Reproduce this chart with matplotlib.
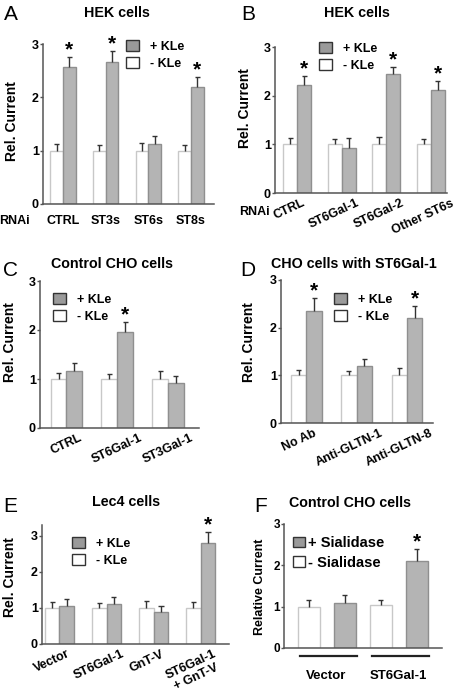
import numpy as np
import matplotlib
matplotlib.use('Agg')
import matplotlib.pyplot as plt
from matplotlib.patches import Patch

plt.rcParams['font.family'] = ['Liberation Sans', 'DejaVu Sans']
plt.rcParams['font.weight'] = 'bold'

# ---- data ----
a_groups = ['CTRL', 'ST3s', 'ST6s', 'ST8s']
a_minus = [1.0, 1.0, 1.0, 1.0]
a_minus_err = [0.12, 0.10, 0.15, 0.10]
a_plus = [2.56, 2.66, 1.12, 2.19]
a_plus_err = [0.20, 0.21, 0.16, 0.20]
a_star = [True, True, False, True]

b_groups = ['CTRL', 'ST6Gal-1', 'ST6Gal-2', 'Other ST6s']
b_minus = [1.0, 1.0, 1.0, 1.0]
b_minus_err = [0.12, 0.10, 0.15, 0.10]
b_plus = [2.21, 0.92, 2.45, 2.12]
b_plus_err = [0.20, 0.21, 0.14, 0.19]
b_star = [True, False, True, True]

c_groups = ['CTRL', 'ST6Gal-1', 'ST3Gal-1']
c_minus = [1.0, 1.0, 1.0]
c_minus_err = [0.13, 0.11, 0.16]
c_plus = [1.17, 1.95, 0.92]
c_plus_err = [0.15, 0.22, 0.14]
c_star = [False, True, False]

d_groups = ['No Ab', 'Anti-GLTN-1', 'Anti-GLTN-8']
d_minus = [1.0, 1.0, 1.0]
d_minus_err = [0.11, 0.10, 0.15]
d_plus = [2.34, 1.20, 2.20]
d_plus_err = [0.29, 0.15, 0.25]
d_star = [True, False, True]

e_groups = ['Vector', 'ST6Gal-1', 'GnT-V', 'ST6Gal-1\n+ GnT-V']
e_minus = [1.0, 1.0, 1.0, 1.0]
e_minus_err = [0.16, 0.15, 0.20, 0.16]
e_plus = [1.06, 1.11, 0.90, 2.80]
e_plus_err = [0.19, 0.20, 0.16, 0.30]
e_star = [False, False, False, True]

f_groups = ['Vector', 'ST6Gal-1']
f_minus = [1.0, 1.04]
f_minus_err = [0.15, 0.11]
f_plus = [1.09, 2.10]
f_plus_err = [0.20, 0.29]
f_star = [False, True]

W, H = 458, 696
fig = plt.figure(figsize=(W / 100, H / 100), dpi=100)

GRAY = '#b4b4b4'
GRAY_EDGE = '#8f8f8f'
WHITE_EDGE = '#c8c8c8'
SPINE = '#555555'


def px(x, y):
    return x / W, 1 - y / H


def panel(l, r, t, b):
    ax = fig.add_axes([l / W, 1 - b / H, (r - l) / W, (b - t) / H])
    ax.patch.set_visible(False)
    return ax


def style(ax, xlim, ylim, tsize=9):
    for s in ['top', 'right']:
        ax.spines[s].set_visible(False)
    for s in ['left', 'bottom']:
        ax.spines[s].set_color(SPINE)
        ax.spines[s].set_linewidth(1.1)
    ax.set_xlim(*xlim)
    ax.set_ylim(*ylim)
    ax.set_yticks([0, 1, 2, 3])
    ax.set_yticklabels(['0', '1', '2', '3'], fontsize=tsize, fontweight='bold')
    ax.tick_params(axis='y', length=2, width=1, color=SPINE, pad=1)
    ax.tick_params(axis='x', length=0)


def draw_bars(ax, xm, xp, minus, minus_err, plus, plus_err, stars, width, cap):
    ax.bar(xm, minus, width, color='white', edgecolor=WHITE_EDGE, linewidth=1, zorder=2)
    ax.bar(xp, plus, width, color=GRAY, edgecolor=GRAY_EDGE, linewidth=1, zorder=2)
    for xs, ys, es in [(xm, minus, minus_err), (xp, plus, plus_err)]:
        xs = np.asarray(xs, dtype=float)
        ys = np.asarray(ys)
        tops = ys + np.asarray(es)
        ax.vlines(xs, ys, tops, color='#333333', linewidth=1, zorder=3)
        ax.hlines(tops, xs - cap, xs + cap, color='#333333', linewidth=1, zorder=3)
    for x, y, e, s in zip(xp, plus, plus_err, stars):
        if s:
            ax.annotate('*', (x, y + e), xytext=(0, 1), textcoords='offset points',
                        ha='center', va='baseline', fontsize=15, fontweight='bold',
                        annotation_clip=False)


def legend(ax, x, y, labels, size=9, hl=1.0, hh=1.0, sp=0.35, tp=0.9):
    handles = [Patch(facecolor='#9a9a9a', edgecolor='#333333', linewidth=1),
               Patch(facecolor='white', edgecolor='#333333', linewidth=1)]
    ax.legend(handles, labels, loc='upper left', bbox_to_anchor=px(x, y),
              bbox_transform=fig.transFigure, frameon=False, borderpad=0,
              borderaxespad=0, handlelength=hl, handleheight=hh,
              labelspacing=sp, handletextpad=tp,
              prop={'size': size, 'weight': 'bold'})


def ylabel(ax, text, x, y, size=10):
    ax.set_ylabel(text, fontsize=size, fontweight='bold', va='center')
    ax.yaxis.set_label_coords(*px(x, y), transform=fig.transFigure)


def letter(x, y, s):
    fig.text(*px(x, y), s, fontsize=15, fontweight='normal', ha='center', va='center')


def title(x, y, s, size=10.3):
    fig.text(*px(x, y), s, fontsize=size, fontweight='bold', ha='center', va='center')


# ---- A ----
ax = panel(43, 214, 44, 204)
w = 0.30
x = np.arange(len(a_groups))
draw_bars(ax, x - w / 2, x + w / 2, a_minus, a_minus_err, a_plus, a_plus_err, a_star, w, 0.06)
style(ax, (-0.47, 3.54), (0, 3))
ax.set_xticks(x)
ax.set_xticklabels(a_groups, fontsize=9, fontweight='bold')
ax.tick_params(axis='x', pad=8)
legend(ax, 126, 40, ['+ KLe', '- KLe'])
ylabel(ax, 'Rel. Current', 12, 121)
fig.text(*px(14, 221), 'RNAi', fontsize=9, fontweight='bold', ha='center', va='center')
letter(11, 15, 'A')
title(117, 13, 'HEK cells')

# ---- B ----
ax = panel(275, 447, 47, 193)
w = 0.315
x = np.arange(len(b_groups))
draw_bars(ax, x - w / 2, x + w / 2, b_minus, b_minus_err, b_plus, b_plus_err, b_star, w, 0.06)
style(ax, (-0.50, 3.37), (0, 3))
ax.set_xticks(x - 0.17)
ax.set_xticklabels(b_groups, fontsize=9, fontweight='bold', rotation=25, ha='center')
ax.tick_params(axis='x', pad=3)
legend(ax, 319, 42, ['+ KLe', '- KLe'])
ylabel(ax, 'Rel. Current', 245, 108)
fig.text(*px(254, 212), 'RNAi', fontsize=9, fontweight='bold', ha='center', va='center')
letter(248, 15, 'B')
title(357, 13, 'HEK cells')

# ---- C ----
ax = panel(40, 199, 281, 428)
w = 0.31
x = np.arange(len(c_groups))
draw_bars(ax, x - w / 2, x + w / 2, c_minus, c_minus_err, c_plus, c_plus_err, c_star, w, 0.05)
style(ax, (-0.52, 2.61), (0, 3))
ax.set_xticks(x)
ax.set_xticklabels(c_groups, fontsize=9, fontweight='bold', rotation=25, ha='center')
ax.tick_params(axis='x', pad=3)
legend(ax, 53, 293, ['+ KLe', '- KLe'])
ylabel(ax, 'Rel. Current', 10, 342)
letter(10, 271, 'C')
title(112, 264, 'Control CHO cells')

# ---- D ----
ax = panel(281, 433, 280, 423)
w = 0.305
x = np.arange(len(d_groups))
draw_bars(ax, x - w / 2, x + w / 2, d_minus, d_minus_err, d_plus, d_plus_err, d_star, w, 0.05)
style(ax, (-0.505, 2.52), (0, 3))
ax.set_xticks(x - 0.15)
ax.set_xticklabels(d_groups, fontsize=9, fontweight='bold', rotation=25, ha='center')
ax.tick_params(axis='x', pad=3)
legend(ax, 334, 293, ['+ KLe', '- KLe'])
ylabel(ax, 'Rel. Current', 249, 342)
letter(248, 271, 'D')
title(354, 264, 'CHO cells with ST6Gal-1')

# ---- E ----
ax = panel(42, 229, 525, 644)
w = 0.31
x = np.arange(len(e_groups))
draw_bars(ax, x - w / 2, x + w / 2, e_minus, e_minus_err, e_plus, e_plus_err, e_star, w, 0.055)
style(ax, (-0.37, 3.6), (0, 3.3))
ax.set_xticks(x - 0.15)
ax.set_xticklabels(e_groups, fontsize=9, fontweight='bold', rotation=25, ha='center',
                   multialignment='center')
ax.tick_params(axis='x', pad=3)
legend(ax, 72, 537, ['+ KLe', '- KLe'])
ylabel(ax, 'Rel. Current', 10, 577)
letter(10, 507, 'E')
title(126, 502, 'Lec4 cells')

# ---- F ----
ax = panel(284, 442, 524, 648)
w = 0.61
xg = np.arange(len(f_groups)) * 2
draw_bars(ax, xg, xg + 1, f_minus, f_minus_err, f_plus, f_plus_err, f_star, w, 0.07)
style(ax, (-0.68, 3.7), (0, 3), tsize=8.5)
ax.set_xticks(xg + 0.5)
ax.set_xticklabels(f_groups, fontsize=9.5, fontweight='bold')
ax.tick_params(axis='x', pad=16)
for g in xg:
    ax.plot([g - 0.25, g + 1.35], [-0.065, -0.065], transform=ax.get_xaxis_transform(),
            clip_on=False, color='#222222', linewidth=1.6)
legend(ax, 293, 536, ['+ Sialidase', '- Sialidase'], size=10.5, hl=0.85, hh=0.75,
       sp=0.4, tp=0.2)
ylabel(ax, 'Relative Current', 260, 587, size=9)
letter(261, 507, 'F')
title(350, 503, 'Control CHO cells')

fig.savefig('out.png', dpi=100)
